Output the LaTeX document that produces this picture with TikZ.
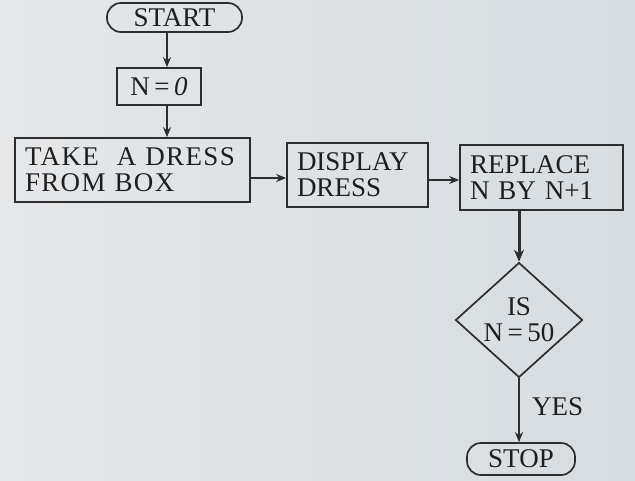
\documentclass[tikz,border=0pt]{standalone}
\usepackage{fontspec}
\setmainfont{Liberation Serif}
\usetikzlibrary{shapes.geometric,arrows.meta}
\definecolor{bgl}{RGB}{229,231,233}
\definecolor{bgr}{RGB}{214,220,224}
\definecolor{ink}{RGB}{45,45,45}
\definecolor{tink}{RGB}{30,30,30}
\begin{document}
\begin{tikzpicture}[x=1pt,y=-1pt,
  txt/.style={font=\fontsize{27}{26}\selectfont, text=tink},
  box/.style={txt, draw=ink, line width=1.7pt, rectangle, inner xsep=10pt, inner ysep=0pt, align=left},
  term/.style={txt, draw=ink, line width=1.7pt, rectangle, rounded corners=14pt, inner sep=0pt},
  dec/.style={txt, draw=ink, line width=1.7pt, diamond, inner sep=0pt, align=center, minimum width=127pt, minimum height=110pt},
  conn/.style={draw=ink, line width=1.7pt, -{Stealth[length=10pt,width=8pt]}},
  thickconn/.style={draw=ink, line width=3pt, -{Stealth[length=12pt,width=10pt]}}]
\shade[left color=bgl,right color=bgr] (0,0) rectangle (635,480);
\useasboundingbox (0,0) rectangle (635,480);

\node[term, minimum width=135pt, minimum height=29pt] (start) at (174.5,17.5) {START};
\node[box, inner xsep=0pt, minimum width=84pt, minimum height=37pt, align=center] (n0) at (159,86.5) {N\,=\,\textit{0}};
\node[box, text width=215pt, minimum height=64pt, font=\fontsize{27}{26}\selectfont\addfontfeature{LetterSpace=5}] (take) at (132.5,170) {TAKE\ \ A DRESS\\FROM BOX};
\node[box, text width=121pt, minimum height=64pt] (disp) at (357.5,175) {DISPLAY\\DRESS};
\node[box, text width=143pt, minimum height=65pt] (repl) at (541.5,177.5) {REPLACE\\N BY N+1};
\node[dec] (dia) at (519,320) {IS\\N\,=\,50};
\node[term, minimum width=108pt, minimum height=32pt] (stop) at (521,459) {STOP};
\node[txt, anchor=base west, inner sep=0pt] (yes) at (532,415) {YES};

\draw[conn] ([xshift=-7.5pt]start.south) -- ([xshift=8pt]n0.north);
\draw[conn] ([xshift=8pt]n0.south) -- ([xshift=34.5pt]take.north);
\draw[conn] ([yshift=-8pt]take.east) -- ([yshift=-3pt]disp.west);
\draw[conn] ([yshift=-5pt]disp.east) -- ([yshift=-2.5pt]repl.west);
\draw[thickconn] (repl.south -| dia.north) -- (dia.north);
\draw[conn] (dia.south) -- (dia.south |- stop.north);
\end{tikzpicture}
\end{document}
